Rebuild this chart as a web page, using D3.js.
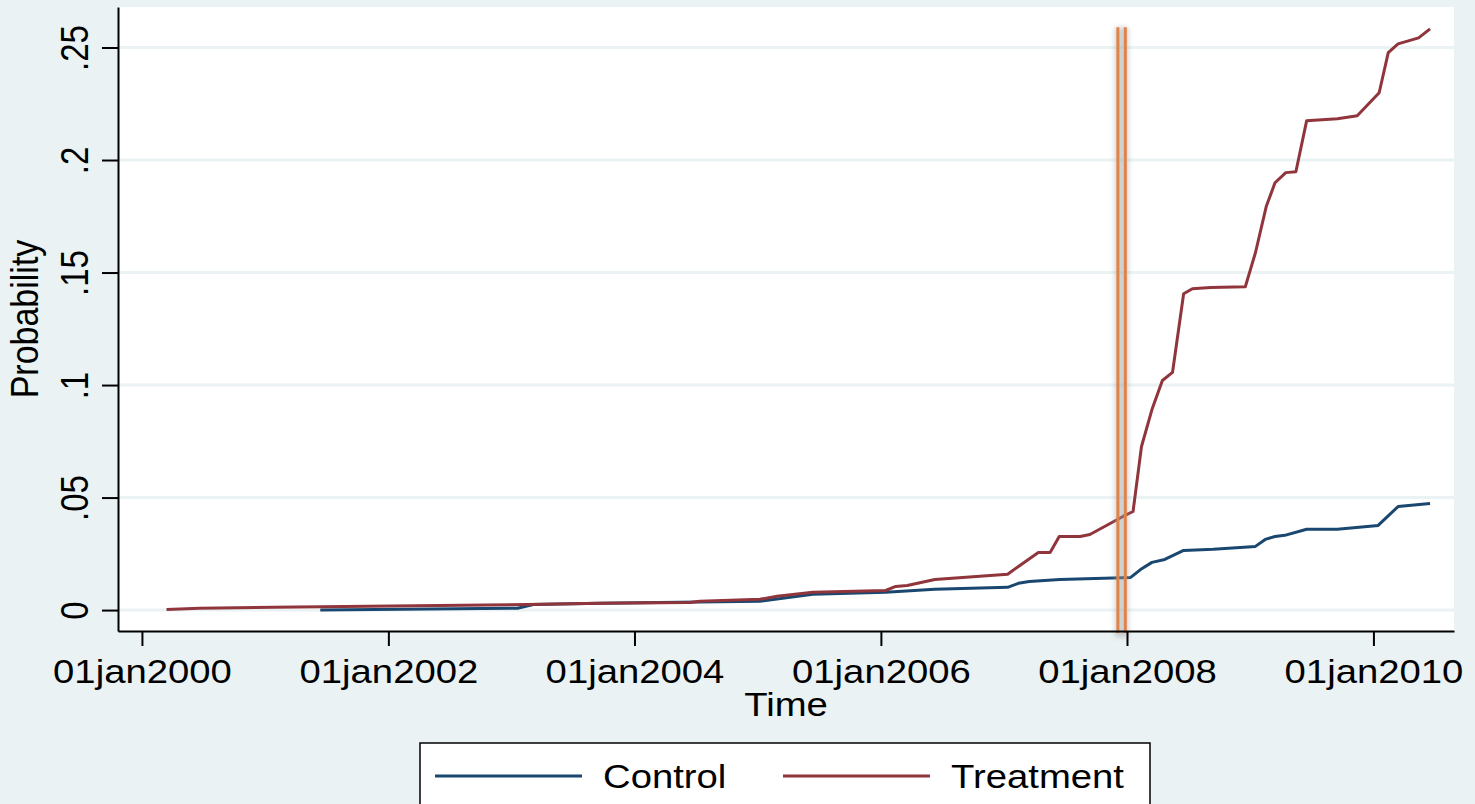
<!DOCTYPE html>
<html>
<head>
<meta charset="utf-8">
<script src="https://cdn.jsdelivr.net/npm/d3@7"></script>
<style>
	body { margin: 0; background: #eaf2f3; }
	svg { display: block; font-family: 'Liberation Sans', Arial, sans-serif; }
</style>
</head>
<body>
<svg id="chart" width="1475" height="804"></svg>
<script>
// series
const controlDates = ['2001-06-13', '2003-01-19', '2003-03-07', '2003-09-20', '2005-01-07', '2005-06-13',
	'2006-01-15', '2006-06-10', '2007-01-12', '2007-02-13', '2007-03-17', '2007-06-16', '2008-01-12',
	'2008-02-10', '2008-03-15', '2008-04-22', '2008-06-17', '2008-09-13', '2009-01-16', '2009-02-14',
	'2009-03-15', '2009-04-13', '2009-06-17', '2009-09-16', '2010-01-15', '2010-03-15', '2010-06-18'];
const controlValues = [0.0000, 0.0008, 0.0025, 0.0030, 0.0039, 0.0070,
	0.0079, 0.0092, 0.0101, 0.0119, 0.0127, 0.0136, 0.0145,
	0.0180, 0.0212, 0.0225, 0.0265, 0.0270, 0.0283, 0.0314,
	0.0327, 0.0332, 0.0359, 0.0359, 0.0376, 0.0460, 0.0474];

const treatmentDates = ['2000-03-14', '2000-06-20', '2001-01-24', '2003-02-17', '2003-09-20', '2004-06-13',
	'2004-07-13', '2005-01-07', '2005-02-27', '2005-06-13', '2006-01-15', '2006-02-14', '2006-03-20',
	'2006-06-10', '2007-01-12', '2007-02-13', '2007-04-13', '2007-05-18', '2007-06-14', '2007-08-15',
	'2007-09-13', '2007-12-20', '2008-01-19', '2008-02-13', '2008-03-15', '2008-04-15', '2008-05-15',
	'2008-06-17', '2008-07-13', '2008-09-05', '2008-12-17', '2009-01-16', '2009-02-17', '2009-03-15',
	'2009-04-16', '2009-05-16', '2009-06-17', '2009-09-16', '2009-11-14', '2010-01-18', '2010-02-14',
	'2010-03-15', '2010-05-15', '2010-06-18'];
const treatmentValues = [0.0003, 0.0008, 0.0012, 0.0025, 0.0030, 0.0034,
	0.0039, 0.0048, 0.0061, 0.0079, 0.0087, 0.0105, 0.0109,
	0.0136, 0.0159, 0.0194, 0.0256, 0.0256, 0.0327, 0.0327,
	0.0336, 0.0416, 0.0438, 0.0727, 0.0891, 0.1020, 0.1056,
	0.1406, 0.1428, 0.1433, 0.1437, 0.1588, 0.1793, 0.1899,
	0.1944, 0.1948, 0.2175, 0.2183, 0.2197, 0.2299, 0.2477,
	0.2516, 0.2543, 0.2583];

const eventDates = ['2007-12-05', '2007-12-27'];
const eventTop = 0.259;

const seriesNames = ['Control', 'Treatment'];
const seriesColors = ['#1a476f', '#90353b'];

const yTicks = [0, 0.05, 0.1, 0.15, 0.2, 0.25];
const yTickLabels = ['0', '.05', '.1', '.15', '.2', '.25'];
const xTicks = ['2000-01-01', '2002-01-01', '2004-01-01', '2006-01-01', '2008-01-01', '2010-01-01'];
const xTickLabels = ['01jan2000', '01jan2002', '01jan2004', '01jan2006', '01jan2008', '01jan2010'];

const parseDate = d3.timeParse('%Y-%m-%d');
const stretch = 'scale(1.16,1)'; // the original graph is a bit wider than tall

const margin = { top: 7, right: 21, bottom: 173, left: 118 };
const width = 1475 - margin.left - margin.right;
const height = 804 - margin.top - margin.bottom;

const svg = d3.select('#chart');
svg.append('rect').attr('width', 1475).attr('height', 804).attr('fill', '#eaf2f3');

const defs = svg.append('defs');
defs.append('filter').attr('id', 'blur')
	.attr('x', '-200%').attr('width', '500%')
	.append('feGaussianBlur').attr('stdDeviation', 2.5);

const g = svg.append('g').attr('transform', 'translate(' + margin.left + ',' + margin.top + ')');

const x = d3.scaleTime()
	.domain([parseDate('1999-10-22'), parseDate('2010-08-28')])
	.range([0, width]);
const y = d3.scaleLinear()
	.domain([-0.0093, 0.268])
	.range([height, 0]);

g.append('rect').attr('width', width).attr('height', height).attr('fill', '#fff');

// gridlines
g.selectAll('line.grid')
	.data(yTicks)
	.enter()
	.append('line')
	.attr('class', 'grid')
	.attr('x1', 0).attr('x2', width)
	.attr('y1', d => y(d)).attr('y2', d => y(d))
	.attr('stroke', '#eaf2f3')
	.attr('stroke-width', 3);

// series
const line = d3.line()
	.x(d => x(d.date))
	.y(d => y(d.value));

const series = [
	controlDates.map((d, i) => ({ date: parseDate(d), value: controlValues[i] })),
	treatmentDates.map((d, i) => ({ date: parseDate(d), value: treatmentValues[i] }))
];

series.forEach((data, i) => {
	g.append('path')
		.datum(data)
		.attr('fill', 'none')
		.attr('stroke', seriesColors[i])
		.attr('stroke-width', 3)
		.attr('stroke-linejoin', 'round')
		.attr('d', line);
});

// event lines with their shadow
const evX = eventDates.map(d => x(parseDate(d)));
g.append('rect')
	.attr('x', evX[0] - 3)
	.attr('y', y(eventTop))
	.attr('width', evX[1] - evX[0] + 6)
	.attr('height', height - y(eventTop) + 6)
	.attr('fill', '#9a9a9a')
	.attr('opacity', 0.45)
	.attr('filter', 'url(#blur)');
g.selectAll('line.event')
	.data(evX)
	.enter()
	.append('line')
	.attr('class', 'event')
	.attr('x1', d => d).attr('x2', d => d)
	.attr('y1', y(eventTop)).attr('y2', height + 2)
	.attr('stroke', '#e0834a')
	.attr('stroke-width', 3);

// axes
const yAxis = d3.axisLeft(y)
	.tickValues(yTicks)
	.tickSize(16)
	.tickSizeOuter(0)
	.tickFormat('');
const xAxis = d3.axisBottom(x)
	.tickValues(xTicks.map(parseDate))
	.tickSize(15)
	.tickSizeOuter(0)
	.tickFormat('');

const gy = g.append('g').call(yAxis);
const gx = g.append('g').attr('transform', 'translate(0,' + height + ')').call(xAxis);
[gx, gy].forEach(a => {
	a.select('.domain').attr('stroke', '#000').attr('stroke-width', 2);
	a.selectAll('.tick line').attr('stroke', '#000').attr('stroke-width', 2);
});

gy.selectAll('.tick')
	.append('text')
	.attr('transform', 'translate(-30,0) ' + stretch + ' rotate(-90)')
	.attr('text-anchor', 'middle')
	.attr('fill', '#000')
	.style('font-size', '33px')
	.text((d, i) => yTickLabels[i]);

gx.selectAll('.tick')
	.append('text')
	.attr('transform', 'translate(0,52) ' + stretch)
	.attr('text-anchor', 'middle')
	.attr('fill', '#000')
	.style('font-size', '33px')
	.text((d, i) => xTickLabels[i]);

// axis titles
svg.append('text')
	.attr('transform', 'translate(38,' + (margin.top + height / 2) + ') ' + stretch + ' rotate(-90)')
	.attr('text-anchor', 'middle')
	.style('font-size', '34px')
	.text('Probability');

svg.append('text')
	.attr('transform', 'translate(' + (margin.left + width / 2) + ',716) ' + stretch)
	.attr('text-anchor', 'middle')
	.style('font-size', '33px')
	.text('Time');

// legend
const legend = svg.append('g').attr('transform', 'translate(420,743)');
legend.append('rect')
	.attr('width', 730).attr('height', 80)
	.attr('fill', '#fff')
	.attr('stroke', '#000')
	.attr('stroke-width', 1.5);
const legendX = [15, 363];
seriesNames.forEach((name, i) => {
	legend.append('line')
		.attr('x1', legendX[i]).attr('x2', legendX[i] + 147)
		.attr('y1', 33).attr('y2', 33)
		.attr('stroke', seriesColors[i])
		.attr('stroke-width', 3);
	legend.append('text')
		.attr('transform', 'translate(' + (legendX[i] + 168) + ',45) ' + stretch)
		.style('font-size', '33px')
		.text(name);
});
</script>
</body>
</html>
